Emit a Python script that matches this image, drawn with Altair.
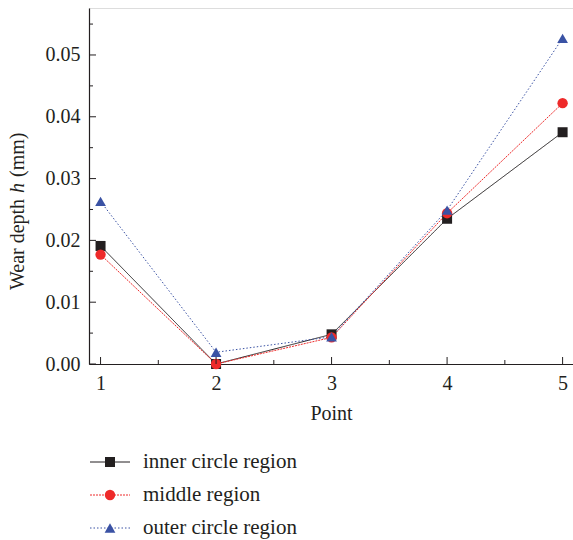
import altair as alt
import pandas as pd

points = [1, 2, 3, 4, 5]
inner = [0.0191, 0.0000, 0.0048, 0.0235, 0.0375]
middle = [0.0177, 0.0000, 0.0043, 0.0244, 0.0422]
outer = [0.0263, 0.0019, 0.0044, 0.0249, 0.0527]

series_names = ["inner circle region", "middle region", "outer circle region"]
series_colors = ["#231f20", "#ee2a2a", "#3a52a4"]
series_shapes = ["square", "circle", "triangle-up"]
series_sizes = [100, 115, 190]
series_dashes = [[1, 0], [2, 1], [1.5, 2]]

y_major = [0.00, 0.01, 0.02, 0.03, 0.04, 0.05]
y_minor = [0.005, 0.015, 0.025, 0.035, 0.045, 0.055]
x_major = [1, 2, 3, 4, 5]
x_minor = [1.5, 2.5, 3.5, 4.5]

title_parts = ["Wear depth", "h", "(mm)"]

FONT = "Liberation Serif"
TXT = "#231f20"
W, H = 484, 356
XDOM = [0.9, 5.09]
YDOM = [0, 0.0576]

rows = []
for name, vals in zip(series_names, [inner, middle, outer]):
    for p, v in zip(points, vals):
        rows.append({"Point": p, "depth": v, "series": name})
df = pd.DataFrame(rows)

xs = alt.Scale(domain=XDOM, nice=False, zero=False)
ys = alt.Scale(domain=YDOM, nice=False, zero=False)
col = alt.Scale(domain=series_names, range=series_colors)
shp = alt.Scale(domain=series_names, range=series_shapes)
szs = alt.Scale(domain=series_names, range=series_sizes)
dsh = alt.Scale(domain=series_names, range=series_dashes)

x_axis = alt.Axis(
    values=x_major, format="d", title="Point", ticks=False, grid=False,
    labelFont=FONT, labelFontSize=20, labelColor=TXT, labelPadding=9,
    titleFont=FONT, titleFontSize=20, titleFontWeight="normal", titleColor=TXT,
    titlePadding=10, domainColor=TXT, domainWidth=1.2)
y_axis = alt.Axis(
    values=y_major, format=".2f", title=None, ticks=False, grid=False,
    labelFont=FONT, labelFontSize=20, labelColor=TXT, labelPadding=9,
    domainColor=TXT, domainWidth=1.2)

base = alt.Chart(df)
lines = base.mark_line(strokeWidth=1).encode(
    x=alt.X("Point:Q", scale=xs, axis=x_axis),
    y=alt.Y("depth:Q", scale=ys, axis=y_axis),
    color=alt.Color("series:N", scale=col, legend=None),
    strokeDash=alt.StrokeDash("series:N", scale=dsh, legend=None),
    order=alt.Order("Point:Q"),
)
pts = base.mark_point(filled=True, opacity=1).encode(
    x=alt.X("Point:Q", scale=xs, axis=x_axis),
    y=alt.Y("depth:Q", scale=ys, axis=None),
    color=alt.Color("series:N", scale=col, legend=None),
    shape=alt.Shape("series:N", scale=shp, legend=None),
    size=alt.Size("series:N", scale=szs, legend=None),
)

yt_major = alt.Chart(pd.DataFrame({"v": y_major})).mark_rule(color=TXT, strokeWidth=1).encode(
    y=alt.Y("v:Q", scale=ys, axis=None), x=alt.value(0), x2=alt.value(7))
yt_minor = alt.Chart(pd.DataFrame({"v": y_minor})).mark_rule(color=TXT, strokeWidth=1).encode(
    y=alt.Y("v:Q", scale=ys, axis=None), x=alt.value(0), x2=alt.value(4))
xt_major = alt.Chart(pd.DataFrame({"Point": x_major})).mark_rule(color=TXT, strokeWidth=1).encode(
    x=alt.X("Point:Q", scale=xs, axis=x_axis), y=alt.value(H), y2=alt.value(H - 7))
xt_minor = alt.Chart(pd.DataFrame({"Point": x_minor})).mark_rule(color=TXT, strokeWidth=1).encode(
    x=alt.X("Point:Q", scale=xs, axis=x_axis), y=alt.value(H), y2=alt.value(H - 4))

# y-axis title with italic h
tdf = pd.DataFrame({"t": title_parts})
t1 = alt.Chart(tdf.iloc[[0]]).mark_text(angle=270, align="left", baseline="middle",
    font=FONT, fontSize=20, color=TXT).encode(text="t:N", x=alt.value(-71), y=alt.value(282))
t2 = alt.Chart(tdf.iloc[[1]]).mark_text(angle=270, align="left", baseline="middle",
    font=FONT, fontSize=20, fontStyle="italic", color=TXT).encode(text="t:N", x=alt.value(-71), y=alt.value(185))
t3 = alt.Chart(tdf.iloc[[2]]).mark_text(angle=270, align="left", baseline="middle",
    font=FONT, fontSize=20, color=TXT).encode(text="t:N", x=alt.value(-71), y=alt.value(169))

# custom legend below the plot
ldf = pd.DataFrame({"series": series_names})
ly = alt.Scale(type="point", domain=series_names, range=[454, 520], padding=0)
lrule = alt.Chart(ldf).mark_rule(strokeWidth=1).encode(
    y=alt.Y("series:N", scale=ly, axis=None),
    x=alt.value(1), x2=alt.value(41),
    color=alt.Color("series:N", scale=col, legend=None),
    strokeDash=alt.StrokeDash("series:N", scale=dsh, legend=None),
)
lpt = alt.Chart(ldf).mark_point(filled=True, opacity=1).encode(
    y=alt.Y("series:N", scale=ly, axis=None),
    x=alt.value(21),
    color=alt.Color("series:N", scale=col, legend=None),
    shape=alt.Shape("series:N", scale=shp, legend=None),
    size=alt.Size("series:N", scale=szs, legend=None),
)
ltxt = alt.Chart(ldf).mark_text(align="left", baseline="middle", font=FONT, fontSize=21, color=TXT).encode(
    y=alt.Y("series:N", scale=ly, axis=None),
    x=alt.value(54),
    text="series:N",
)

chart = alt.layer(
    lines, pts, yt_major, yt_minor, xt_major, xt_minor, t1, t2, t3, lrule, lpt, ltxt
).resolve_scale(y="independent").properties(
    width=W, height=H,
    autosize=alt.AutoSizeParams(type="none"),
    padding={"left": 89, "top": 8, "right": 0, "bottom": 176},
).configure_view(stroke=None).configure(background="white")

chart.save("out.html", embed_options={"renderer": "svg", "actions": False})
